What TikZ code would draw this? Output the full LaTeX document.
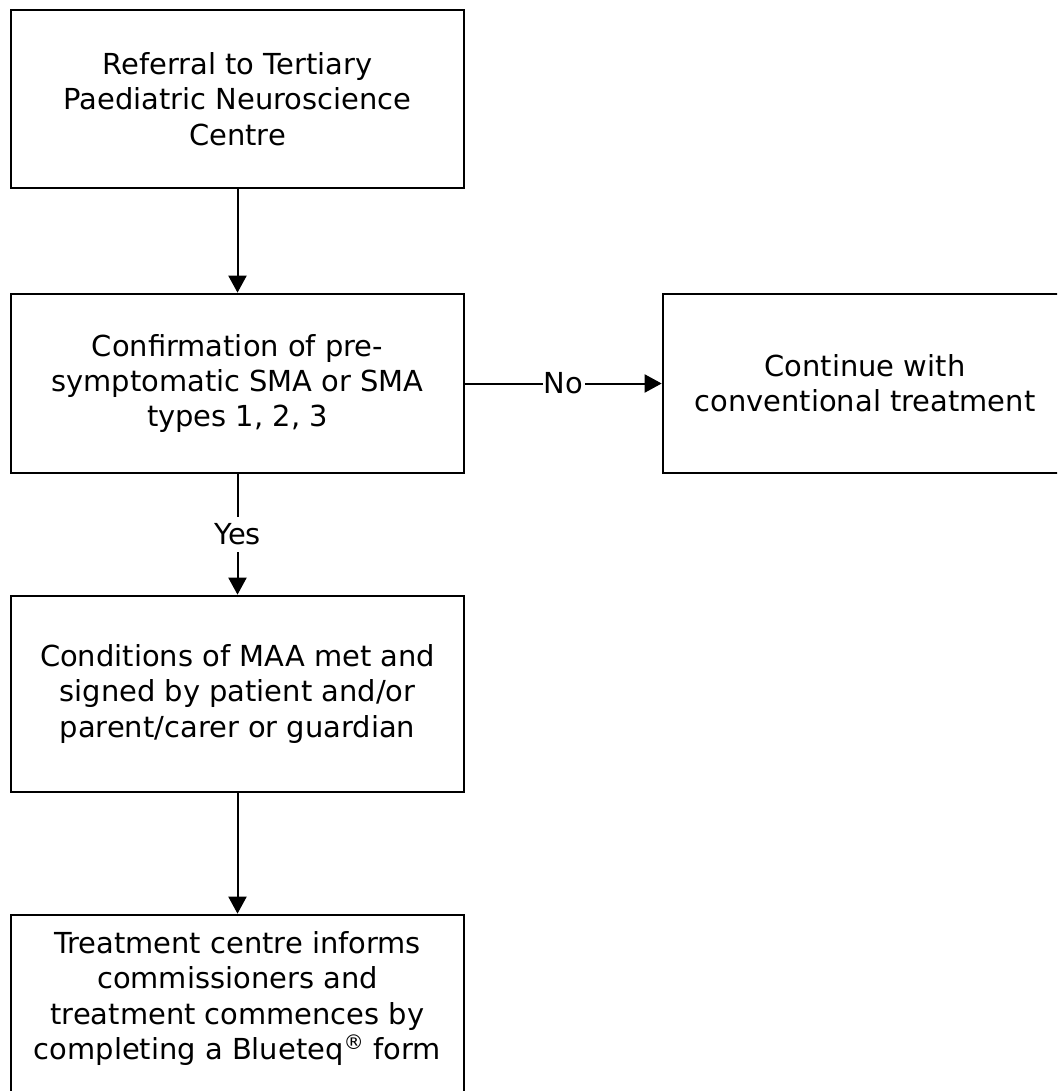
\documentclass[tikz,border=0pt]{standalone}
\usepackage{fontspec}
\setmainfont{DejaVu Sans}
\usetikzlibrary{arrows.meta}
\begin{document}
\begin{tikzpicture}[x=0.75pt,y=-0.75pt,
  box/.style={draw, line width=2pt, align=center, inner sep=0pt,
    font=\fontsize{21.7pt}{26.5pt}\selectfont},
  flow/.style={line width=1.5pt, -{Triangle[width=13.5pt,length=12.75pt]}},
  lbl/.style={fill=white, inner xsep=1pt, inner ysep=5pt,
    font=\fontsize{21.7pt}{26.5pt}\selectfont}]
\useasboundingbox (0,0) rectangle (1057,1091);
\clip (0,0) rectangle (1057,1091);
\node[box, minimum width=339.75pt, minimum height=133.5pt] (ref) at (237.5,99)
  {Referral to Tertiary\\Paediatric Neuroscience\\Centre};
\node[box, minimum width=339.75pt, minimum height=134.25pt] (conf) at (237.5,383.5)
  {Confirmation of pre-\\symptomatic SMA or SMA\\types 1, 2, 3};
\node[box, minimum width=303pt, minimum height=134.25pt] (cont) at (865,383.5)
  {Continue with\\conventional treatment};
\node[box, minimum width=339.75pt, minimum height=147pt] (maa) at (237.5,694)
  {Conditions of MAA met and\\signed by patient and/or\\parent/carer or guardian};
\node[box, minimum width=339.75pt, minimum height=133.5pt] (treat) at (237.5,1004)
  {Treatment centre informs\\commissioners and\\treatment commences by\\completing a Blueteq\textsuperscript{®} form\rule[-13pt]{0pt}{13pt}};
\draw[flow] (ref) -- (conf);
\draw[flow] (conf) -- node[lbl] (no) {No} (cont);
\draw[flow] (conf) -- node[lbl] (yes) {Yes} (maa);
\draw[flow] (maa) -- (treat);
\end{tikzpicture}
\end{document}
